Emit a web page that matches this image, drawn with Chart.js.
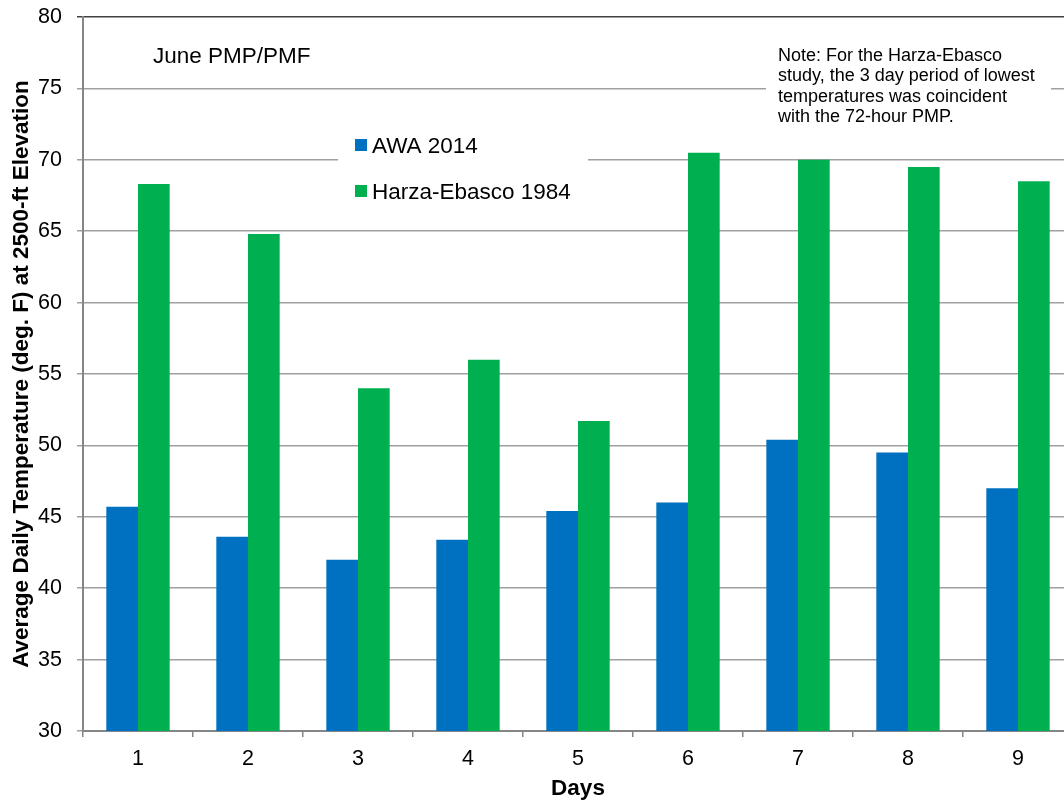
<!DOCTYPE html>
<html>
<head>
<meta charset="utf-8">
<script src="https://cdn.jsdelivr.net/npm/chart.js@4"></script>
<style>
    html, body { margin: 0; padding: 0; background: #fff; overflow: hidden; }
    #wrap { position: relative; width: 1073px; height: 806px; }
</style>
</head>
<body>
<div id="wrap"><canvas id="chart_1"></canvas></div>
<script>
// data
const days = ['1', '2', '3', '4', '5', '6', '7', '8', '9'];
const awa2014 = [45.7, 43.6, 42.0, 43.4, 45.4, 46.0, 50.4, 49.5, 47.0];
const harza1984 = [68.3, 64.8, 54.0, 56.0, 51.7, 70.5, 70.0, 69.5, 68.5];
const yMin = 30, yMax = 80, yStep = 5;

const seriesLabels = ['AWA 2014', 'Harza-Ebasco 1984'];
const seriesColors = ['#0070C0', '#00B050'];

const chartNote = 'June PMP/PMF';
const noteLines = [
    'Note: For the Harza-Ebasco',
    'study, the 3 day period of lowest',
    'temperatures was coincident',
    'with the 72-hour PMP.'
];

const FONT = "'Liberation Sans', Arial, sans-serif";

// legend + text boxes drawn inside the plot area
const boxesPlugin = {
    id: 'boxes',
    beforeDatasetsDraw(chart) {
        const ctx = chart.ctx;
        ctx.save();
        ctx.fillStyle = '#fff';
        ctx.fillRect(338, 122, 250, 95);   // legend background
        ctx.fillRect(766, 34, 285, 100);   // note background

        // legend
        ctx.font = '22.5px ' + FONT;
        ctx.textBaseline = 'alphabetic';
        ctx.textAlign = 'left';
        chart.data.datasets.forEach((ds, i) => {
            const cy = 145 + i * 46;
            ctx.fillStyle = ds.backgroundColor;
            ctx.fillRect(355, cy - 6, 12, 12);
            ctx.fillStyle = '#000';
            ctx.fillText(ds.label, 372, cy + 8);
        });

        // title note
        ctx.font = '22.5px ' + FONT;
        ctx.fillText(chartNote, 153, 63);

        // side note
        ctx.font = '18px ' + FONT;
        noteLines.forEach((t, i) => ctx.fillText(t, 778, 61 + i * 20.3));
        ctx.restore();
    }
};

const chartBar = {
    type: 'bar',
    data: {
        labels: days,
        datasets: [{
            label: seriesLabels[0],
            data: awa2014,
            backgroundColor: seriesColors[0],
            barPercentage: 1,
            categoryPercentage: 0.576
        }, {
            label: seriesLabels[1],
            data: harza1984,
            backgroundColor: seriesColors[1],
            barPercentage: 1,
            categoryPercentage: 0.576
        }]
    },
    options: {
        responsive: true,
        maintainAspectRatio: false,
        animation: false,
        layout: { padding: { top: 17, left: 0, right: 0, bottom: 0 } },
        plugins: {
            legend: { display: false },
            tooltip: { enabled: false }
        },
        scales: {
            x: {
                grid: {
                    display: true,
                    drawOnChartArea: false,
                    offset: true,
                    tickLength: 6,
                    color: '#868686',
                    lineWidth: 1.5
                },
                border: { color: '#868686', width: 2 },
                ticks: { color: '#000', padding: 9, font: { family: FONT, size: 21.5 } },
                title: {
                    display: true,
                    text: 'Days',
                    color: '#000',
                    font: { family: FONT, size: 22.5, weight: 'bold' },
                    padding: { top: 0, bottom: 4 }
                },
                afterFit: (scale) => {
                    scale.height = 75;
                    scale.paddingLeft = 0;
                    scale.paddingRight = 0;
                }
            },
            y: {
                min: yMin,
                max: yMax,
                ticks: { stepSize: yStep, color: '#000', padding: 15, font: { family: FONT, size: 21.5 } },
                grid: {
                    tickLength: 6,
                    lineWidth: 1.5,
                    color: (c) => c.tick && c.tick.value === yMax ? '#404040' : '#a0a0a0'
                },
                border: { color: '#868686', width: 2 },
                title: {
                    display: true,
                    text: 'Average Daily Temperature (deg. F) at 2500-ft Elevation',
                    color: '#000',
                    font: { family: FONT, size: 22.5, weight: 'bold' },
                    padding: { top: 8, bottom: 0 }
                },
                afterFit: (scale) => {
                    scale.width = 83;
                    scale.paddingTop = 0;
                    scale.paddingBottom = 0;
                }
            }
        }
    },
    plugins: [boxesPlugin]
};

const ctx_1 = document.getElementById('chart_1').getContext('2d');
const chart_1 = new Chart(ctx_1, chartBar);
</script>
</body>
</html>
